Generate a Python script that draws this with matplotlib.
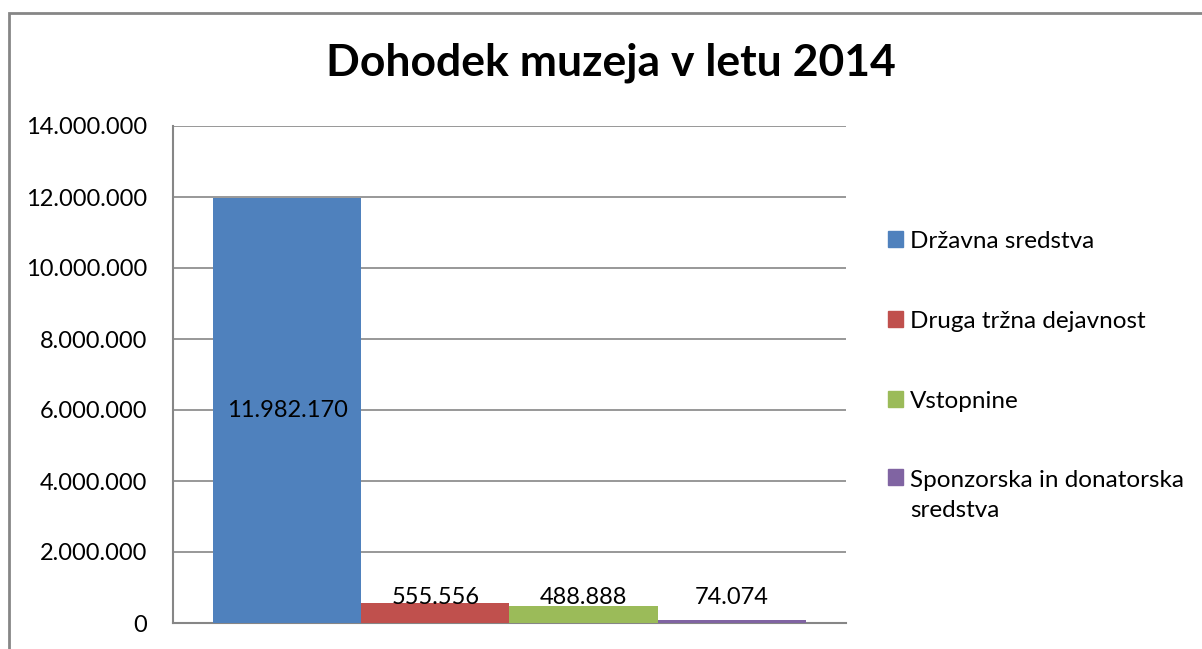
import matplotlib.pyplot as plt
from matplotlib.patches import Rectangle
from matplotlib.legend_handler import HandlerPatch
from matplotlib.ticker import FuncFormatter

# chart data
series = ['Državna sredstva', 'Druga tržna dejavnost', 'Vstopnine',
          'Sponzorska in donatorska\nsredstva']
values = [11982170, 555556, 488888, 74074]
colors = ['#4F81BD', '#C0504D', '#9BBB59', '#8064A2']
yticks = [0, 2000000, 4000000, 6000000, 8000000, 10000000, 12000000, 14000000]

plt.rcParams['font.family'] = ['Lato', 'DejaVu Sans']
grey = '#868686'


def dots(v, pos=None):
    return f'{int(v):,}'.replace(',', '.')


fig = plt.figure(figsize=(12.02, 6.49), dpi=100)

# outer chart border (cropped on right and bottom)
fig.patches.append(Rectangle((9 / 1202, -0.1), 1.1, 1 - 13 / 649 + 0.1,
                             transform=fig.transFigure, fill=False,
                             edgecolor=grey, linewidth=2))

ax = fig.add_axes([173 / 1202, 26 / 649, 673 / 1202, 497 / 649])

bar_w = 0.2202
n = len(values)
for i, (name, v, c) in enumerate(zip(series, values, colors)):
    x = (i - (n - 1) / 2) * bar_w
    ax.bar(x, v, width=bar_w, color=c, label=name, zorder=3)
    if i == 0:
        ax.text(x, v / 2, dots(v), ha='center', va='center', fontsize=17,
                zorder=4)
    else:
        ax.annotate(dots(v), (x, 0), xytext=(0, 18.5), textcoords='offset points',
                    ha='center', va='center', fontsize=17, zorder=4)

ax.set_xlim(-0.5, 0.5)
ax.set_ylim(0, 14000000)
ax.set_yticks(yticks)
ax.yaxis.set_major_formatter(FuncFormatter(dots))
ax.tick_params(axis='y', length=0, pad=18.5, labelsize=17)
ax.set_xticks([])
ax.grid(axis='y', color=grey, linewidth=1.2, zorder=0)
for s in ['top', 'right']:
    ax.spines[s].set_visible(False)
for s in ['left', 'bottom']:
    ax.spines[s].set_color(grey)
    ax.spines[s].set_linewidth(1.5)

fig.text(611 / 1202, 1 - 63 / 649, 'Dohodek muzeja v letu 2014',
         ha='center', va='center', fontsize=32, fontweight='bold')

# legend; the wrapped last entry keeps its square beside the first line
handles = [Rectangle((0, 0), 1, 1, color=c) for c in colors]


def top_aligned(legend, orig_handle, xdescent, ydescent, width, height, fontsize):
    return Rectangle((-xdescent, -ydescent + 0.75 * fontsize), width, height)


leg = fig.legend(handles, series, loc='upper left',
                 bbox_to_anchor=(866 / 1202, 1 - 209 / 649),
                 frameon=False, fontsize=17.5, handlelength=0.62, handleheight=0.62,
                 handletextpad=0.3, labelspacing=2.42,
                 handler_map={handles[-1]: HandlerPatch(patch_func=top_aligned)})
leg.get_texts()[-1].set_linespacing(1.5)

fig.savefig('out.png', dpi=100)
